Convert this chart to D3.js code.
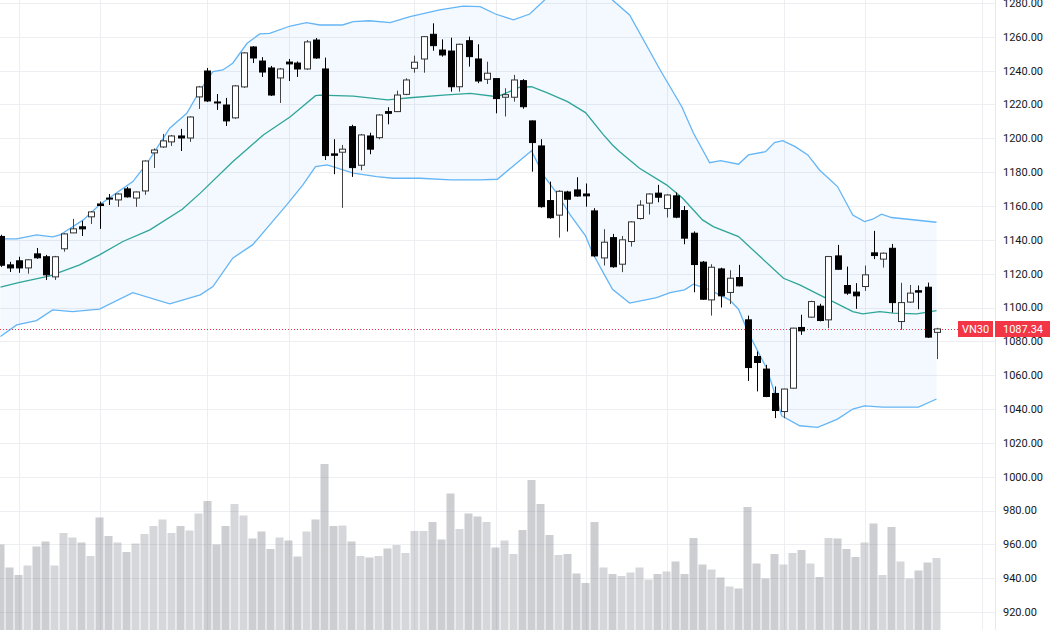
<!DOCTYPE html>
<html>
<head>
<meta charset="utf-8">
<script src="https://cdn.jsdelivr.net/npm/d3@7"></script>
<style>
  body { margin: 0; background: #fff; }
  svg { display: block; }
</style>
</head>
<body>
<div class="chart"></div>
<script>
// candles, one entry per session
const opens = [1142,1125.2,1127.6,1123.4,1131.7,1130,1118.1,1134.7,1144.1,1147.7,1153.6,1161.2,1164.7,1163.6,1170.1,1164.7,1168.9,1191.4,1194.9,1197.9,1201.4,1200.2,1224.5,1239.8,1221.5,1219.7,1212.1,1230.4,1254,1245.7,1241.6,1235.7,1245.1,1244.5,1241,1258.1,1241,1190.8,1191.8,1206.9,1184.1,1201.4,1200.4,1215.8,1215.8,1226,1241.4,1246.9,1261.5,1252.2,1251.6,1230.5,1257.7,1246.9,1234.9,1235.3,1224.3,1224.3,1234.1,1210.3,1195.5,1163.2,1154.6,1168.3,1169.5,1167.1,1157.1,1129.3,1141.3,1125.6,1139,1152.6,1161.7,1167.6,1158.5,1166,1157.3,1143.9,1126.8,1104.5,1122.8,1108.9,1117.7,1092.7,1071,1063.6,1049.2,1038.5,1052.3,1088.2,1094.3,1100.8,1092.7,1130.5,1113,1109.1,1112.4,1132.3,1128.6,1135,1091.7,1103.2,1109.9,1112,1085.3];
const highs = [1143,1127,1130,1128.5,1135.2,1131.1,1130.5,1144,1152.4,1151.2,1157,1162.6,1167.1,1167.5,1171.3,1168.5,1187,1194,1202.6,1202,1205.6,1213,1231,1241.6,1226.2,1223.9,1231.5,1251,1254.5,1248,1242.8,1241.5,1246.9,1245.5,1258.1,1259.3,1247.7,1199.5,1196.1,1208,1202.6,1203.3,1214.3,1218.4,1228.2,1235.5,1248.9,1260.5,1268,1258.5,1259.5,1256,1260.1,1255.6,1245.3,1235.5,1229.6,1237.5,1235,1210.5,1199.5,1174.4,1169.3,1169,1177,1173.3,1158.7,1146.3,1143.5,1142.3,1151,1163.4,1167.5,1172.5,1167,1168,1160,1145,1127.5,1125.6,1123.5,1122,1125.2,1095.2,1074,1066.1,1053.3,1052,1088,1095.7,1104,1102.2,1130.5,1137,1124.2,1114.4,1124.8,1145.3,1132.5,1137.6,1114.6,1113.3,1113,1114.7,1088];
const lows = [1124,1121,1120.5,1120,1128.8,1116.3,1116.3,1133,1144,1142.3,1149.4,1146.5,1160.6,1159.5,1165,1159.5,1166.6,1182.5,1194.3,1195.5,1192.5,1197.9,1217.4,1221.5,1216.8,1207.3,1211.5,1229.8,1244.5,1236.3,1225,1220.9,1233.9,1236.3,1240.5,1247,1187.2,1178.8,1158.9,1177.2,1181.1,1190.6,1199.4,1208.3,1215.5,1225.5,1238.8,1238.8,1251.8,1248.3,1227.6,1227.6,1242.4,1232.6,1232.1,1214.8,1212.9,1221.7,1217.5,1180.3,1159,1152.5,1141.3,1144.9,1165.5,1159.6,1130,1124.8,1123.5,1120.9,1136,1152,1155,1162.2,1153.2,1152.8,1137.4,1109,1104.5,1095.2,1100,1102,1112.5,1056.6,1050.4,1047,1034.6,1034.6,1052,1083.8,1094,1091.8,1087.8,1122.3,1107.5,1099.2,1109.8,1128.6,1123.6,1097,1086.8,1102.8,1099,1082,1069.5];
const closes = [1125,1123.4,1123.4,1128.2,1129.4,1119.3,1130,1143.5,1146.5,1146.5,1156.5,1160.3,1164.1,1167.1,1165.4,1168.3,1186.6,1193.1,1198.5,1201.4,1200.2,1212.6,1230.4,1222.1,1220.9,1210.3,1231,1250.5,1247.5,1239.2,1225.6,1241,1244,1241,1257,1247.5,1189.8,1190,1193.6,1182.7,1202,1193.6,1213.8,1214.8,1225.6,1234.5,1245,1260.1,1254.8,1249.3,1230.5,1255.6,1248.3,1233.9,1238.5,1223.5,1225.8,1234.5,1218.7,1197.5,1159.6,1153.1,1168.7,1164,1165.9,1166,1130.5,1138.6,1124.1,1140,1150.6,1160.5,1167.1,1165.2,1166.5,1153.4,1141,1125.4,1104.9,1123.8,1106.9,1117.3,1112.8,1064.5,1067.5,1047.4,1039.1,1051.8,1087.8,1086.2,1103.5,1092.3,1130.1,1122.6,1108.5,1106.9,1119.3,1130.7,1132.1,1102.9,1102.9,1108.5,1109.1,1082.5,1087.34];
const volumes = [171,125,110,129,167,177,129,194,185,175,148,225,188,175,156,173,192,208,221,194,208,199,233,258,171,208,252,229,183,197,162,185,179,147,197,221,332,208,209,177,148,145,148,163,170,154,198,198,216,181,273,202,233,227,216,165,179,152,200,300,252,190,150,152,113,94,216,125,112,108,115,125,101,112,117,137,112,184,131,121,105,87,83,246,133,103,152,131,154,160,133,106,184,183,162,146,175,213,110,206,137,103,119,135,144];

// bollinger bands: [session index, price]
const bbUpper = [[0,1140.6],[1.8,1140.6],[4,1142.9],[5.8,1141.7],[6.6,1142.9],[9.2,1151.8],[11,1160.7],[14.7,1174.4],[16.3,1185.3],[18.8,1206],[20.7,1214.8],[22.2,1228.6],[23.6,1239.4],[24.7,1240.4],[25.8,1244.4],[27.4,1256.2],[28.8,1261.7],[29.9,1262.1],[32.2,1266.4],[34,1268.4],[35.5,1267],[38,1267],[39.2,1269],[41,1269.5],[43.3,1268.4],[45.5,1271.9],[48.8,1275.9],[51.4,1278.2],[53.3,1277.8],[55,1273.5],[57,1270],[58.8,1273.5],[60.7,1283],[63,1295],[65,1298],[67,1290],[68,1281.8],[69.9,1272.9],[73.3,1240.4],[75.7,1218.7],[77,1203],[78.8,1185.6],[80,1186.8],[82,1184.7],[83.1,1190.2],[85,1192.1],[86,1197.5],[86.9,1198.6],[88.3,1195.1],[89.7,1190.2],[91,1181.3],[93,1171.5],[94.7,1154.7],[96,1150.8],[96.9,1152.2],[97.9,1155.2],[99,1153.2],[104,1150.4]];
const bbBasis = [[0,1112],[2,1114.7],[5.5,1118.7],[8.8,1125.2],[11,1131.1],[13.6,1139],[16.6,1145.9],[20.2,1158.1],[22.2,1167.6],[25.8,1186.2],[29.2,1202],[32.2,1212.8],[35,1225.2],[35.5,1225.6],[39.2,1225],[43,1222.7],[45.5,1224],[49.2,1225.6],[52.2,1226.6],[55.2,1224.6],[57.7,1230.2],[59,1230.5],[60.7,1227],[63,1221.7],[65,1215.2],[67,1202],[68,1196.1],[68.8,1192.1],[71,1182.3],[74,1172.5],[75.8,1164.6],[78,1151.8],[79.2,1147.8],[82,1141.9],[84.4,1130.1],[87,1117.3],[88.8,1113.4],[91,1107.5],[92.5,1103.5],[94.7,1097.6],[95.8,1096.2],[97.7,1097.6],[99.2,1096.7],[101.8,1096.2],[104,1098.2]];
const bbLower = [[0,1082.8],[1.8,1089.7],[4,1092.3],[5.8,1098.6],[8,1097.6],[11,1099],[14.7,1108.8],[18.8,1102.2],[22.2,1107.5],[23.6,1112.4],[25.8,1129.2],[28,1137],[29.6,1146.9],[31.8,1160.7],[33.6,1172.5],[35,1183.3],[36.3,1184.3],[39.2,1179.4],[41.8,1177.4],[43.6,1176.4],[46.6,1176.4],[50,1175.4],[53.3,1175.4],[55.2,1175.8],[59,1192.7],[60.3,1178.4],[61.8,1167.6],[63.3,1154.7],[65,1142.3],[65.8,1132.1],[67,1120.3],[68,1110.8],[69.9,1102.6],[72.9,1105.9],[74.4,1108.8],[76,1110.4],[77,1113.8],[78.8,1110.4],[81,1104.5],[82,1099],[83.1,1085],[85.2,1063.2],[86.8,1036],[88.8,1030.1],[90.8,1029.1],[93,1034],[94.7,1040],[96,1041.9],[98,1041.1],[102,1041.1],[104,1045.9]];

const priceTicks = d3.range(920, 1281, 20);
const timeGrid = [2, 11, 23, 32, 46, 55, 65, 74, 87, 96, 109];
const lastLabel = "VN30";
const lastPrice = 1087.34;

const width = 1050, height = 630, plotRight = 995;

const x = d3.scaleLinear().domain([0, 104]).range([0.5, 936.5]);
const y = d3.scaleLinear().domain([920, 1280]).range([612, 3]);
const yVol = d3.scaleLinear().domain([0, 400]).range([630, 430]);

const svg = d3.select(".chart")
  .append("svg")
  .attr("width", width)
  .attr("height", height)
  .style("font-family", "Roboto, 'Liberation Sans', sans-serif");

svg.append("clipPath")
  .attr("id", "plot-clip")
  .append("rect")
  .attr("width", plotRight)
  .attr("height", height);

const grid = svg.append("g").attr("clip-path", "url(#plot-clip)");

grid.selectAll(".hgrid")
  .data(priceTicks.concat([900]))
  .enter()
  .append("line")
  .attr("x1", 0)
  .attr("x2", plotRight)
  .attr("y1", d => Math.round(y(d)) + 0.5)
  .attr("y2", d => Math.round(y(d)) + 0.5)
  .style("stroke", "#eceef2");

grid.selectAll(".vgrid")
  .data(timeGrid)
  .enter()
  .append("line")
  .attr("x1", d => Math.round(x(d)) + 0.5)
  .attr("x2", d => Math.round(x(d)) + 0.5)
  .attr("y1", 0)
  .attr("y2", height)
  .style("stroke", "#eceef2");

const plot = svg.append("g").attr("clip-path", "url(#plot-clip)");

// volume
plot.selectAll(".vol")
  .data(volumes)
  .enter()
  .append("rect")
  .attr("x", (d, i) => x(i) - 4)
  .attr("width", 8)
  .attr("y", d => yVol(d))
  .attr("height", d => yVol(0) - yVol(d))
  .style("fill", (d, i) => closes[i] >= opens[i] ? "rgba(120,123,134,0.30)" : "rgba(120,123,134,0.37)");

// band fill
const pt = d3.line().x(d => x(d[0])).y(d => y(d[1]));
plot.append("path")
  .attr("d", pt(bbUpper.concat(bbLower.slice().reverse())) + "Z")
  .style("fill", "rgba(33,150,243,0.055)");

[[bbUpper, "#64b5f6"], [bbLower, "#64b5f6"], [bbBasis, "#2fa59a"]].forEach(([d, c]) => {
  plot.append("path")
    .attr("d", pt(d))
    .style("fill", "none")
    .style("stroke", c)
    .style("stroke-width", 1.3);
});

// last price line
plot.append("line")
  .attr("x1", 0)
  .attr("x2", 958)
  .attr("y1", Math.round(y(lastPrice)) + 0.5)
  .attr("y2", Math.round(y(lastPrice)) + 0.5)
  .attr("shape-rendering", "crispEdges")
  .style("stroke", "#f23645")
  .style("stroke-dasharray", "1,2");

// candles
const candles = plot.selectAll(".candle")
  .data(closes)
  .enter()
  .append("g");

candles.append("line")
  .attr("x1", (d, i) => Math.round(x(i)) + 0.5)
  .attr("x2", (d, i) => Math.round(x(i)) + 0.5)
  .attr("y1", (d, i) => y(highs[i]))
  .attr("y2", (d, i) => y(lows[i]))
  .style("stroke", (d, i) => d >= opens[i] ? "#444" : "#000");

candles.append("rect")
  .attr("x", (d, i) => Math.round(x(i)) - 2.5)
  .attr("width", 6)
  .attr("y", (d, i) => y(Math.max(d, opens[i])))
  .attr("height", (d, i) => Math.max(1, Math.abs(y(d) - y(opens[i]))))
  .style("fill", (d, i) => d >= opens[i] ? "#fff" : "#000")
  .style("stroke", (d, i) => d >= opens[i] ? "#333" : "#000")
  .style("stroke-width", 1);

// price axis
svg.append("line")
  .attr("x1", plotRight + 0.5)
  .attr("x2", plotRight + 0.5)
  .attr("y1", 0)
  .attr("y2", height)
  .style("stroke", "#e6e8ee");

svg.selectAll(".ptick")
  .data(priceTicks)
  .enter()
  .append("text")
  .attr("x", 1003)
  .attr("y", d => y(d))
  .attr("dy", "0.35em")
  .style("font-size", "11px")
  .style("fill", "#131722")
  .text(d => d3.format(".2f")(d));

const tagY = Math.round(y(lastPrice)) - 8;
svg.append("rect")
  .attr("x", 958).attr("y", tagY)
  .attr("width", 35).attr("height", 16)
  .style("fill", "#f23645");
svg.append("text")
  .attr("x", 975.5).attr("y", tagY + 8).attr("dy", "0.35em")
  .attr("text-anchor", "middle")
  .style("font-size", "11px").style("fill", "#fff")
  .text(lastLabel);
svg.append("rect")
  .attr("x", 995).attr("y", tagY)
  .attr("width", 55).attr("height", 16)
  .style("fill", "#f23645");
svg.append("text")
  .attr("x", 1003).attr("y", tagY + 8).attr("dy", "0.35em")
  .style("font-size", "11px").style("fill", "#fff")
  .text(d3.format(".2f")(lastPrice));
</script>
</body>
</html>
